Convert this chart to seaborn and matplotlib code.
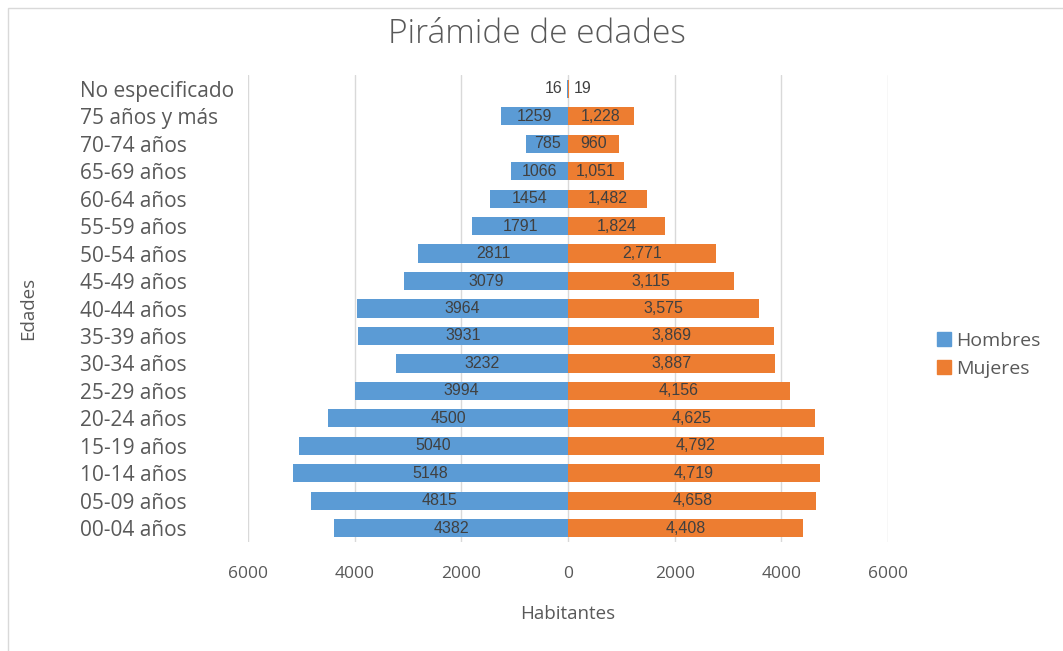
import matplotlib
matplotlib.use('Agg')
import matplotlib.pyplot as plt
import seaborn as sns
import pandas as pd
import numpy as np
from matplotlib.patches import Patch, Rectangle

# ----------------------
# DATA
# ----------------------
grupos = ['No especificado', '75 años y más', '70-74 años', '65-69 años', '60-64 años',
          '55-59 años', '50-54 años', '45-49 años', '40-44 años', '35-39 años',
          '30-34 años', '25-29 años', '20-24 años', '15-19 años', '10-14 años',
          '05-09 años', '00-04 años']
hombres = [16, 1259, 785, 1066, 1454, 1791, 2811, 3079, 3964, 3931,
           3232, 3994, 4500, 5040, 5148, 4815, 4382]
mujeres = [19, 1228, 960, 1051, 1482, 1824, 2771, 3115, 3575, 3869,
           3887, 4156, 4625, 4792, 4719, 4658, 4408]
x_ticks = [-6000, -4000, -2000, 0, 2000, 4000, 6000]

AZUL = '#5B9BD5'
NARANJA = '#ED7D31'
GRIS = '#595959'

# ----------------------
# PLOT
# ----------------------
sns.set_style('white')
plt.rcParams['font.family'] = ['Open Sans', 'DejaVu Sans']

df = pd.DataFrame({
    'grupo': grupos * 2,
    'valor': [-h for h in hombres] + mujeres,
    'sexo': ['Hombres'] * len(grupos) + ['Mujeres'] * len(grupos),
})

fig = plt.figure(figsize=(10.63, 6.51), dpi=100)
ax = fig.add_axes([0.2333, 0.1674, 0.6021, 0.7174])

sns.barplot(data=df, x='valor', y='grupo', hue='sexo', order=grupos,
            palette={'Hombres': AZUL, 'Mujeres': NARANJA}, dodge=False,
            width=0.66, orient='h', legend=False, saturation=1,
            linewidth=0, ax=ax)

ax.set_xlim(-6000, 6000)
ax.set_xticks(x_ticks)
ax.set_xticklabels([str(abs(t)) for t in x_ticks], fontsize=12.5, color=GRIS)
ax.grid(axis='x', color='#D9D9D9', linewidth=1)
ax.set_axisbelow(True)
for s in ax.spines.values():
    s.set_visible(False)
ax.tick_params(axis='both', length=0)
ax.tick_params(axis='x', pad=17)
ax.tick_params(axis='y', pad=121)
for lab in ax.get_yticklabels():
    lab.set_ha('left')
    lab.set_fontsize(15)
    lab.set_color(GRIS)

ax.set_xlabel('Habitantes', fontsize=13.5, color=GRIS, labelpad=17)
ax.set_ylabel('Edades', fontsize=13.5, color=GRIS)
ax.yaxis.set_label_coords(-0.33, 0.5)

# data labels
for i, (h, m) in enumerate(zip(hombres, mujeres)):
    if h < 300:
        ax.text(-h - 80, i, str(h), ha='right', va='center', fontsize=11.5,
                color='#404040', family='Liberation Sans')
    else:
        ax.text(-h / 2, i, str(h), ha='center', va='center', fontsize=11.5,
                color='#404040', family='Liberation Sans')
    if m < 300:
        ax.text(m + 80, i, f'{m:,}', ha='left', va='center', fontsize=11.5,
                color='#404040', family='Liberation Sans')
    else:
        ax.text(m / 2, i, f'{m:,}', ha='center', va='center', fontsize=11.5,
                color='#404040', family='Liberation Sans')

fig.text(0.505, 0.947, 'Pirámide de edades', ha='center', va='center',
         fontsize=24, color=GRIS, fontweight='light')

handles = [Patch(color=AZUL, label='Hombres'), Patch(color=NARANJA, label='Mujeres')]
leg = fig.legend(handles=handles, loc='center left', bbox_to_anchor=(0.872, 0.455),
                 frameon=False, fontsize=14, handlelength=0.75, handleheight=0.75,
                 handletextpad=0.25, labelspacing=0.5, borderpad=0)
for t in leg.get_texts():
    t.set_color(GRIS)

# chart border
fig.patches.append(Rectangle((8 / 1063, -0.05), 1.1, 1.05 - 8 / 651,
                             transform=fig.transFigure, fill=False,
                             edgecolor='#D9D9D9', linewidth=1))

fig.savefig('out.png', dpi=100)
